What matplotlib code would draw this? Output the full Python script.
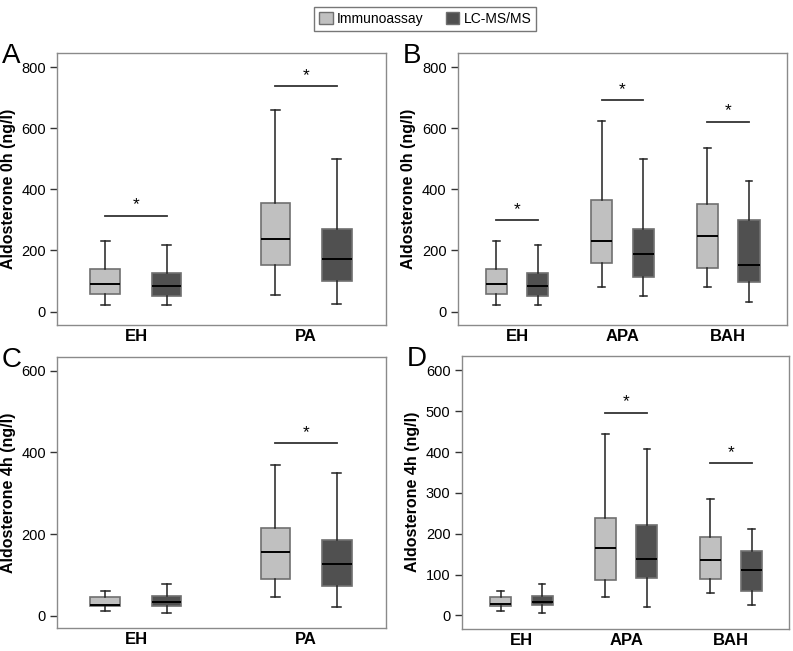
import matplotlib
matplotlib.use('Agg')
import matplotlib.pyplot as plt
from matplotlib.patches import Patch

plt.rcParams['font.family'] = ['Liberation Sans', 'DejaVu Sans']

series_names = ['Immunoassay', 'LC-MS/MS']
series_colors = ['#c0c0c0', '#505050']

# ---- panel A: aldosterone 0h, EH vs PA  (whislo, q1, med, q3, whishi)
groups_A = ['EH', 'PA']
immuno_A = [[21, 58, 91, 139, 230], [55, 153, 237, 357, 661]]
lcms_A = [[21, 52, 83, 127, 219], [26, 99, 172, 271, 499]]
sig_A = [314, 738]

# ---- panel B: aldosterone 0h, EH / APA / BAH
groups_B = ['EH', 'APA', 'BAH']
immuno_B = [[21, 58, 91, 139, 230], [82, 158, 230, 367, 623], [80, 144, 247, 352, 535]]
lcms_B = [[21, 52, 83, 127, 219], [52, 114, 188, 271, 499], [30, 97, 152, 299, 429]]
sig_B = [300, 693, 622]

# ---- panel C: aldosterone 4h, EH vs PA
groups_C = ['EH', 'PA']
immuno_C = [[10, 23, 27, 45, 61], [45, 89, 155, 214, 370]]
lcms_C = [[6, 24, 33, 47, 77], [21, 73, 126, 186, 349]]
sig_C = [None, 423]

# ---- panel D: aldosterone 4h, EH / APA / BAH
groups_D = ['EH', 'APA', 'BAH']
immuno_D = [[10, 23, 29, 45, 61], [45, 86, 166, 239, 444], [55, 90, 136, 191, 284]]
lcms_D = [[6, 25, 33, 48, 77], [21, 91, 139, 222, 408], [26, 60, 112, 157, 211]]
sig_D = [None, 496, 372]


def stats(v):
    return dict(whislo=v[0], q1=v[1], med=v[2], q3=v[3], whishi=v[4], fliers=[])


def panel(ax, groups, immuno, lcms, sig, offset, width, xlim, ylim, yticks, ylabel, letter):
    n = len(groups)
    for k, vals in enumerate([immuno, lcms]):
        sgn = -1 if k == 0 else 1
        pos = [i + sgn * offset for i in range(n)]
        ax.bxp([stats(v) for v in vals], positions=pos, widths=width,
               capwidths=width * 0.32, patch_artist=True, showfliers=False,
               boxprops=dict(facecolor=series_colors[k], edgecolor='#707070', linewidth=1.2),
               medianprops=dict(color='black', linewidth=1.4),
               whiskerprops=dict(color='#222222', linewidth=1.1),
               capprops=dict(color='#222222', linewidth=1.1))
    for i, s in enumerate(sig):
        if s is None:
            continue
        ax.plot([i - offset, i + offset], [s, s], color='#333333', lw=1.3)
        ax.text(i, s + (ylim[1] - ylim[0]) * 0.012, '*', ha='center', va='bottom', fontsize=12.5)
    ax.set_xlim(xlim)
    ax.set_ylim(ylim)
    ax.set_yticks(yticks)
    ax.set_xticks(range(n))
    ax.set_xticklabels(groups, fontsize=12, fontweight='bold')
    ax.tick_params(axis='x', length=0, pad=3)
    ax.tick_params(axis='y', length=5, width=1, labelsize=10.5, color='#333333', pad=3)
    ax.set_ylabel(ylabel, fontsize=11.5, fontweight='bold', labelpad=4)
    for sp in ax.spines.values():
        sp.set_color('#8a8a8a')
        sp.set_linewidth(1.0)
    ax.text(-0.168, 0.99, letter, transform=ax.transAxes, fontsize=20, ha='left', va='center')


fig = plt.figure(figsize=(7.93, 6.51), dpi=100)
axA = fig.add_axes([0.0719, 0.5008, 0.4149, 0.4178])
axB = fig.add_axes([0.5772, 0.5008, 0.4149, 0.4178])
axC = fig.add_axes([0.0719, 0.0350, 0.4149, 0.4160])
axD = fig.add_axes([0.5822, 0.0345, 0.4131, 0.4187])

panel(axA, groups_A, immuno_A, lcms_A, sig_A, 0.18, 0.175, (-0.464, 1.47), (-44, 847),
      range(0, 801, 200), 'Aldosterone 0h (ng/l)', 'A')
panel(axB, groups_B, immuno_B, lcms_B, sig_B, 0.198, 0.2, (-0.562, 2.556), (-44, 847),
      range(0, 801, 200), 'Aldosterone 0h (ng/l)', 'B')
panel(axC, groups_C, immuno_C, lcms_C, sig_C, 0.18, 0.175, (-0.464, 1.47), (-31, 633),
      range(0, 601, 200), 'Aldosterone 4h (ng/l)', 'C')
panel(axD, groups_D, immuno_D, lcms_D, sig_D, 0.198, 0.2, (-0.569, 2.557), (-32, 635),
      range(0, 601, 100), 'Aldosterone 4h (ng/l)', 'D')

handles = [Patch(facecolor=c, edgecolor='#707070', label=l) for c, l in zip(series_colors, series_names)]
fig.legend(handles=handles, loc='upper center', bbox_to_anchor=(0.536, 1.0), ncol=2,
           frameon=True, fancybox=False, edgecolor='#555555', fontsize=10,
           handlelength=1.0, handleheight=1.0, handletextpad=0.3, columnspacing=1.6,
           borderpad=0.35)

fig.savefig('out.png', dpi=100)
